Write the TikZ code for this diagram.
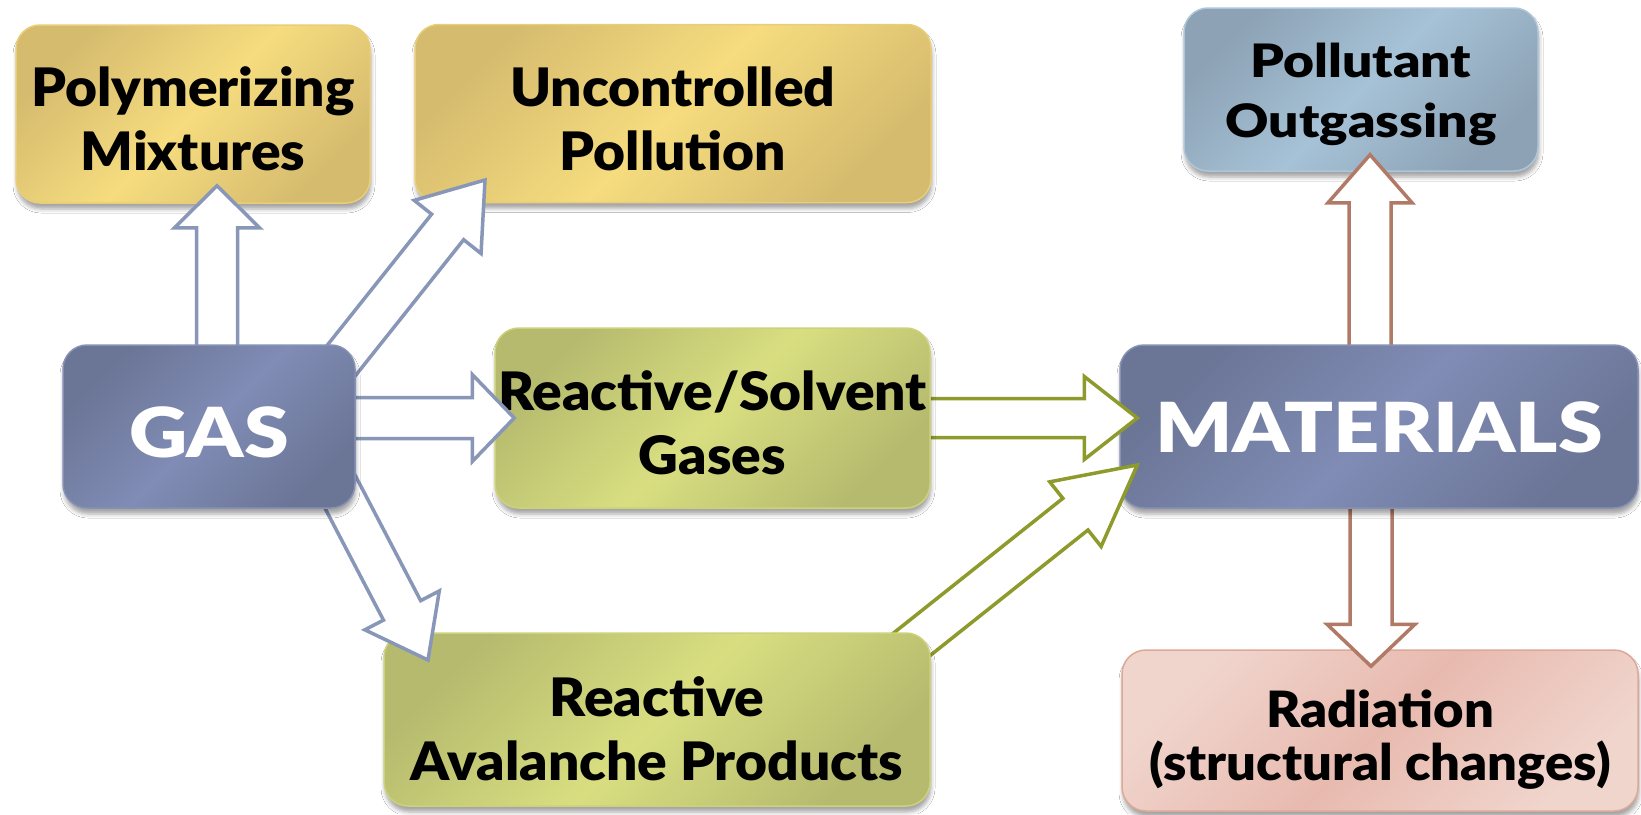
\documentclass[tikz,border=0pt]{standalone}
\usepackage{fontspec}
\setmainfont{Lato}
\newfontfamily\fA{Lato Black}[FakeStretch=1.04]
\newfontfamily\fB{Lato Black}[FakeStretch=1.16]
\newfontfamily\fC{Lato Black}[FakeStretch=1.17]
\newfontfamily\fD{Lato Black}[FakeStretch=1.05]
\usetikzlibrary{calc,shadows.blur}
\definecolor{yelD}{HTML}{D5BB6E}
\definecolor{yelL}{HTML}{F6DC7E}
\definecolor{yelB}{HTML}{E9CD77}
\definecolor{gasD}{HTML}{6B7596}
\definecolor{gasL}{HTML}{808CB5}
\definecolor{gasB}{HTML}{8791B5}
\definecolor{grnD}{HTML}{B6BA6E}
\definecolor{grnL}{HTML}{D8DE80}
\definecolor{grnB}{HTML}{CDD27A}
\definecolor{polD}{HTML}{8DA2B5}
\definecolor{polL}{HTML}{A6C2D7}
\definecolor{polB}{HTML}{AFC6D8}
\definecolor{radL}{HTML}{F0D5CD}
\definecolor{radM}{HTML}{E8BAAF}
\definecolor{radB}{HTML}{DDA898}
\definecolor{arGas}{HTML}{8896B8}
\definecolor{arGrn}{HTML}{8E9A2B}
\definecolor{arMat}{HTML}{B07A66}
% two centred lines, baseline at the first line
\newcommand{\twol}[2]{\vtop{\hbox to 0pt{\hss #1\hss}\hbox to 0pt{\hss #2\hss}}}
% #1 style, #2 start, #3 tip, #4 shaft half-width, #5 head half-width, #6 head length
\newcommand{\blockarrow}[6]{%
  \coordinate (bahead) at ($(#3)!#6!(#2)$);
  \draw[#1] ($(#2)!#4!90:(#3)$) -- ($(bahead)!#4!90:(#3)$) -- ($(bahead)!#5!90:(#3)$)
    -- (#3) -- ($(bahead)!#5!-90:(#3)$) -- ($(bahead)!#4!-90:(#3)$) -- ($(#2)!#4!-90:(#3)$) -- cycle;
}
\tikzset{
  box/.style={rounded corners=24pt, inner sep=0pt, line width=1.5pt,
    blur shadow={shadow xshift=1pt, shadow yshift=-6pt, shadow blur radius=4pt, shadow opacity=35}},
  yelbox/.style={box, draw=yelB, left color=yelD, right color=yelD, middle color=yelL, shading angle=45},
  gasbox/.style={box, draw=gasB, left color=gasD, right color=gasD, middle color=gasL, shading angle=45, text=white},
  grnbox/.style={box, draw=grnB, left color=grnD, right color=grnD, middle color=grnL, shading angle=45},
  polbox/.style={box, draw=polB, left color=polD, right color=polD, middle color=polL, shading angle=45},
  radbox/.style={box, draw=radB, left color=radL, right color=radL, middle color=radM, shading angle=45},
  txtA/.style={font=\fontsize{53}{64}\selectfont\fA, text depth=64pt},
  txtB/.style={font=\fontsize{46}{60}\selectfont\fB, text depth=60pt},
  txtC/.style={font=\fontsize{69}{80}\selectfont\fC, text depth=0pt},
  txtD/.style={font=\fontsize{50}{53}\selectfont\fD, text depth=53pt},
  garrow/.style={draw=arGas, fill=white, line width=3.5pt, line join=miter},
  narrow/.style={draw=arGrn, fill=white, line width=3.5pt, line join=miter},
  marrow/.style={draw=arMat, fill=white, line width=3.5pt, line join=miter},
}
\begin{document}
\begin{tikzpicture}[x=1pt,y=-1pt]
\useasboundingbox (0,0) rectangle (1641,814);
\fill[white] (0,0) rectangle (1641,814);

% target boxes
\node[yelbox, txtA, text height=48pt, minimum width=354pt, minimum height=178pt] (poly) at (193,114) {\twol{Polymerizing}{Mixtures}};
\node[yelbox, txtA, text height=49pt, minimum width=516pt, minimum height=178pt] (unc) at (673,113.5) {\twol{Uncontrolled}{Pollution}};
\node[polbox, txtB, text height=36pt, minimum width=354pt, minimum height=163pt] (pollut) at (1361,89.5) {\twol{Pollutant}{Outgassing}};
\node[radbox, txtD, text height=46pt, minimum width=516pt, minimum height=161pt] (rad) at (1380,730.5) {\twol{Radiation}{(structural changes)}};

% arrows out of MATERIALS (start inside it)
\coordinate (s7) at (1370,400);  \coordinate (t7) at ([yshift=17pt]pollut.south -| s7);
\coordinate (s8) at (1371,450);  \coordinate (t8) at ([yshift=-17pt]rad.north -| s8);
\blockarrow{marrow}{s7}{t7}{21pt}{42pt}{48pt}
\blockarrow{marrow}{s8}{t8}{21pt}{44pt}{42pt}

\node[gasbox, txtC, text height=52.5pt, minimum width=518pt, minimum height=163pt] (mat) at (1379,426.5) {MATERIALS};

% green arrows into MATERIALS
\coordinate (s5) at (880,418);   \coordinate (t5) at ([xshift=18pt]mat.west |- s5);
\coordinate (s6) at (882,668);   \coordinate (t6) at ([xshift=18pt,yshift=-38.5pt]mat.west);
\blockarrow{narrow}{s5}{t5}{19.5pt}{41.5pt}{53pt}
\blockarrow{narrow}{s6}{t6}{20.2pt}{41.3pt}{79pt}

\node[grnbox, txtA, text height=49pt, minimum width=435pt, minimum height=180pt] (rs) at (712.5,418) {\twol{Reactive/Solvent}{Gases}};
\node[grnbox, txtA, text height=58pt, minimum width=546pt, minimum height=173pt] (aval) at (657,719.5) {\twol{Reactive}{Avalanche Products}};

% arrows out of GAS
\coordinate (s1) at (217,400);   \coordinate (t1) at ([yshift=18pt]poly.south -| s1);
\coordinate (s2) at (317,391);   \coordinate (t2) at (485,180);
\coordinate (s3) at (300,418);   \coordinate (t3) at ([xshift=20pt]rs.west);
\coordinate (s4) at (312,438);   \coordinate (t4) at (428,660);
\blockarrow{garrow}{s1}{t1}{20.5pt}{42.5pt}{42pt}
\blockarrow{garrow}{s2}{t2}{20.5pt}{42.7pt}{60pt}
\blockarrow{garrow}{s3}{t3}{20.5pt}{43.5pt}{42pt}
\blockarrow{garrow}{s4}{t4}{21pt}{42pt}{56pt}

\node[gasbox, txtC, text height=61pt, minimum width=292pt, minimum height=163pt] (gas) at (209,426.5) {GAS};
\end{tikzpicture}
\end{document}
